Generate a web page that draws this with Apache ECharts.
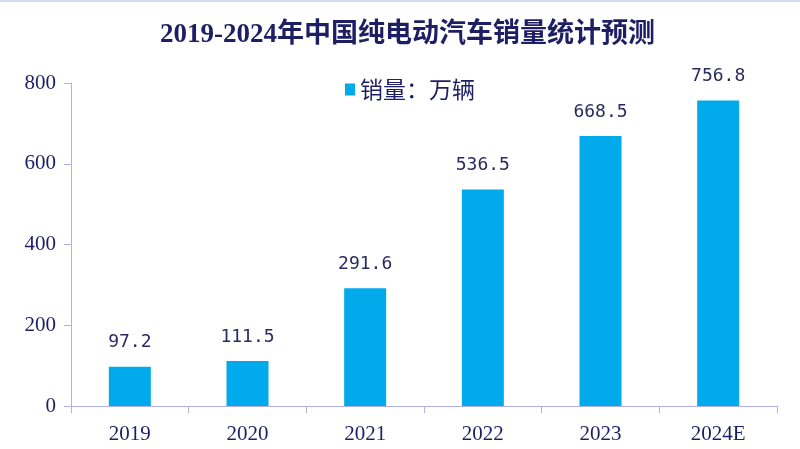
<!DOCTYPE html>
<html>
<head>
<meta charset="utf-8">
<script src="https://cdn.jsdelivr.net/npm/echarts@6/dist/echarts.min.js"></script>
<style>html,body{margin:0;padding:0;background:#fff}#c{width:800px;height:449px}</style>
</head>
<body>
<div id="c"></div>
<script>
var categories = ['2019', '2020', '2021', '2022', '2023', '2024E'];
var sales = [97.2, 111.5, 291.6, 536.5, 668.5, 756.8];
var seriesName = '销量：万辆';
var titleText = '2019-2024年中国纯电动汽车销量统计预测';

var chart = echarts.init(document.getElementById('c'));
var navy = '#1e1e64';
var axisColor = '#aeb0e6';
chart.setOption({
  backgroundColor: '#ffffff',
  animation: false,
  graphic: [{type: 'rect', shape: {x: 0, y: 0, width: 800, height: 2}, style: {fill: '#cfdcf2'}}],
  title: {
    text: titleText,
    left: 155,
    top: 17,
    textStyle: {fontFamily: "'Liberation Serif','Noto Sans CJK SC'", fontWeight: 'bold', fontSize: 27, color: navy}
  },
  legend: {
    data: [seriesName],
    left: 340,
    top: 73,
    icon: 'rect',
    itemWidth: 10,
    itemHeight: 12,
    itemGap: 6,
    textStyle: {fontFamily: "'Noto Sans CJK SC'", fontSize: 23, color: navy}
  },
  grid: {left: 71, right: 23, top: 83, bottom: 43, containLabel: false},
  xAxis: {
    type: 'category',
    data: categories,
    axisLine: {lineStyle: {color: axisColor, width: 1}},
    axisTick: {show: true, length: 7, lineStyle: {color: axisColor}},
    axisLabel: {fontFamily: "'Liberation Serif'", fontSize: 21, color: navy, margin: 18}
  },
  yAxis: {
    type: 'value',
    min: 0,
    max: 800,
    interval: 200,
    splitLine: {show: false},
    axisLine: {show: true, lineStyle: {color: axisColor, width: 1}},
    axisTick: {show: true, length: 7, lineStyle: {color: axisColor}},
    axisLabel: {fontFamily: "'Liberation Serif'", fontSize: 21, color: navy, margin: 15}
  },
  series: [{
    name: seriesName,
    type: 'bar',
    data: sales,
    barWidth: 42,
    itemStyle: {color: '#00aaeb'},
    label: {
      show: true,
      position: 'top',
      distance: 15,
      fontFamily: "'DejaVu Sans Mono'",
      fontSize: 18,
      color: '#2a2a60'
    }
  }]
});
</script>
</body>
</html>
